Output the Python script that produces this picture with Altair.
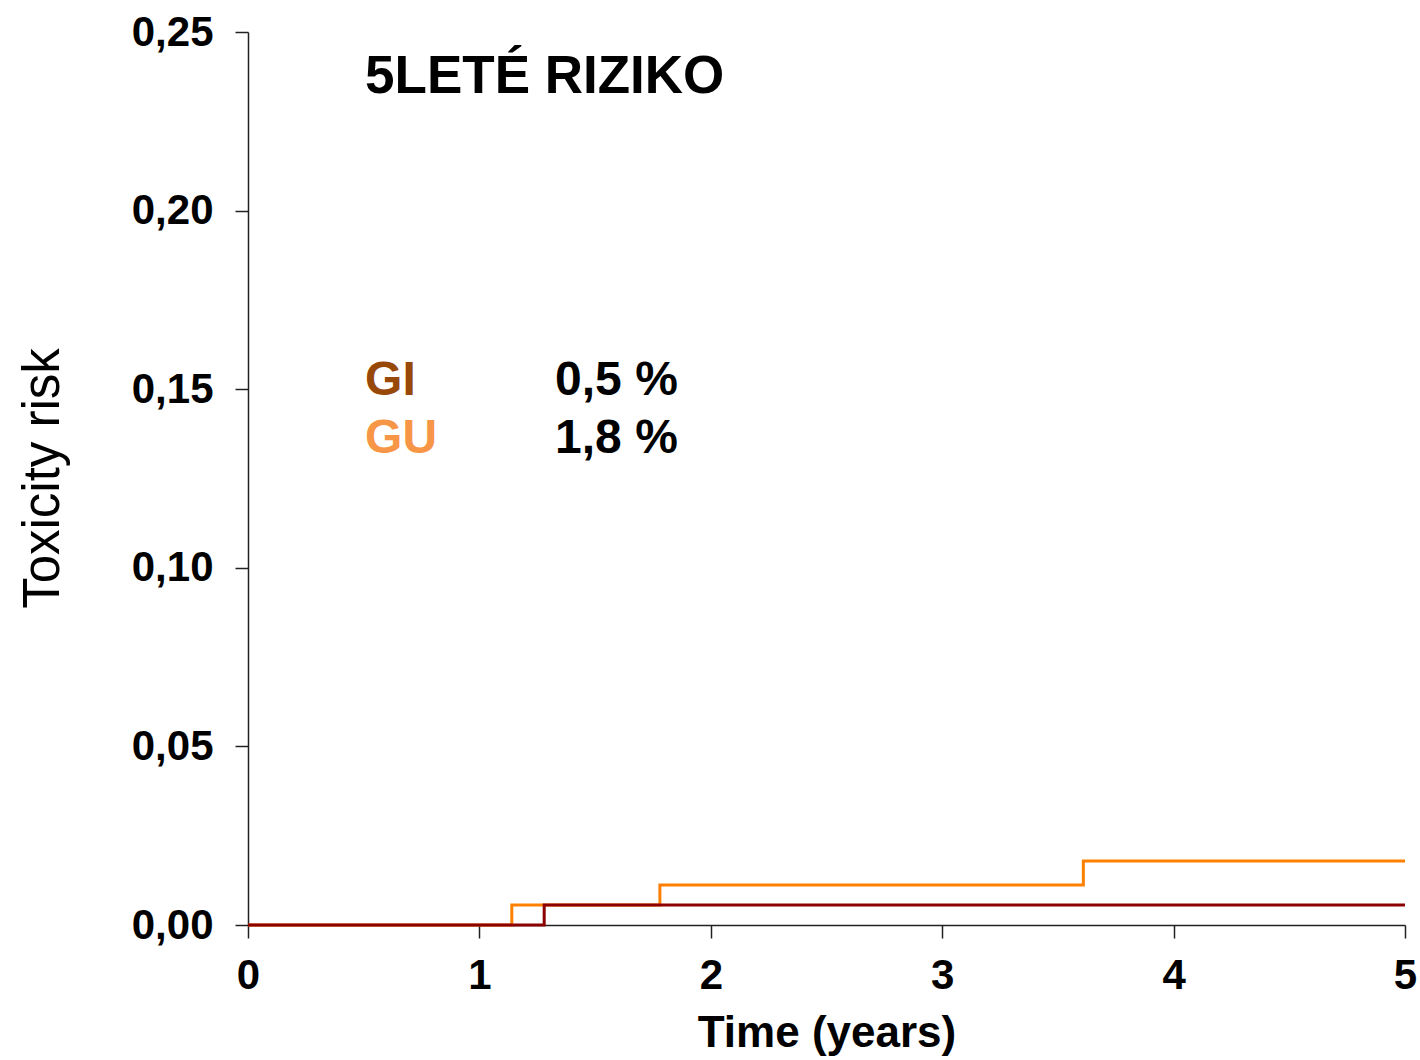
import altair as alt
import pandas as pd

# Data
gu_time = [0, 1.14, 1.78, 3.61, 5.0]
gu_risk = [0.0, 0.0056, 0.0112, 0.0179, 0.0179]
gi_time = [0, 1.28, 5.0]
gi_risk = [0.0, 0.0056, 0.0056]

x_ticks = [0, 1, 2, 3, 4, 5]
y_ticks = [0.0, 0.05, 0.10, 0.15, 0.20, 0.25]

title_text = "5LETÉ RIZIKO"
legend_names = ["GI", "GU"]
legend_values = ["0,5 %", "1,8 %"]
legend_colors = ["#984807", "#F79646"]
legend_x = [0.506, 0.506]
value_x = [1.327, 1.327]
legend_y = [0.1484, 0.1321]

df_gu = pd.DataFrame({"t": gu_time, "r": gu_risk})
df_gi = pd.DataFrame({"t": gi_time, "r": gi_risk})

FONT = "Liberation Sans"

xs = alt.Scale(domain=[0, 5], nice=False, zero=False)
ys = alt.Scale(domain=[0, 0.25], nice=False)

x_axis = alt.Axis(
    values=x_ticks, format="d", grid=False, title="Time (years)",
    domainColor="#222", domainWidth=1.5, tickColor="#222", tickWidth=1.5, tickSize=13,
    labelFont=FONT, labelFontSize=42, labelFontWeight="bold", labelColor="#000",
    labelPadding=17, labelFlush=False,
    titleFont=FONT, titleFontSize=44, titleFontWeight="bold", titleColor="#000",
    titleBaseline="top", titleY=86,
)
y_axis = alt.Axis(
    values=y_ticks, grid=False, title="Toxicity risk",
    labelExpr="replace(format(datum.value, '.2f'), '.', ',')",
    domainColor="#222", domainWidth=1.5, tickColor="#222", tickWidth=1.5, tickSize=13,
    labelFont=FONT, labelFontSize=42, labelFontWeight="bold", labelColor="#000",
    labelPadding=22, labelFlush=False,
    titleFont=FONT, titleFontSize=51, titleFontWeight="normal", titleColor="#000",
    titleAngle=270, titleBaseline="alphabetic", titleAlign="center",
    titleX=-190, titleY=446,
)

gu_line = alt.Chart(df_gu).mark_line(interpolate="step-after", color="#FF8000", strokeWidth=3).encode(
    x=alt.X("t:Q", scale=xs, axis=x_axis),
    y=alt.Y("r:Q", scale=ys, axis=y_axis),
)
gi_line = alt.Chart(df_gi).mark_line(interpolate="step-after", color="#8B0000", strokeWidth=3).encode(
    x=alt.X("t:Q", scale=xs),
    y=alt.Y("r:Q", scale=ys),
)

df_title = pd.DataFrame({"x": [0.506], "y": [0.2329], "label": [title_text]})
title_layer = alt.Chart(df_title).mark_text(
    font=FONT, fontSize=53, fontWeight="bold", align="left", baseline="alphabetic", color="#000"
).encode(x=alt.X("x:Q", scale=xs), y=alt.Y("y:Q", scale=ys), text="label:N")

df_leg = pd.DataFrame({"x": legend_x, "vx": value_x, "y": legend_y, "name": legend_names,
                       "val": legend_values, "col": legend_colors})
leg_names = alt.Chart(df_leg).mark_text(
    font=FONT, fontSize=48, fontWeight="bold", align="left", baseline="alphabetic"
).encode(x=alt.X("x:Q", scale=xs), y=alt.Y("y:Q", scale=ys), text="name:N",
         color=alt.Color("col:N", scale=None))
leg_vals = alt.Chart(df_leg).mark_text(
    font=FONT, fontSize=48, fontWeight="bold", align="left", baseline="alphabetic", color="#000"
).encode(x=alt.X("vx:Q", scale=xs), y=alt.Y("y:Q", scale=ys), text="val:N")

chart = alt.layer(gu_line, gi_line, title_layer, leg_names, leg_vals).properties(
    width=1157, height=893,
    autosize=alt.AutoSizeParams(type="none"),
    padding={"left": 248, "top": 32, "right": 15, "bottom": 135},
    view=alt.ViewBackground(stroke=None, strokeOpacity=0),
).configure_view(stroke=None, strokeOpacity=0, strokeWidth=0).configure(background="white")

chart.save("out.html", embed_options={"renderer": "svg", "actions": False})
